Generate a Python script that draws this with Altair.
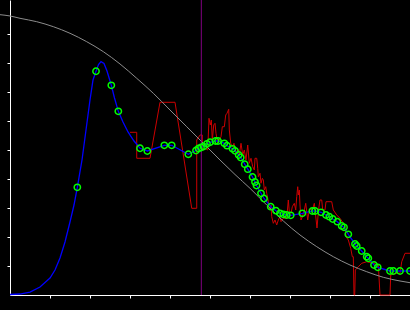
import altair as alt
import pandas as pd

# Gray reference curve
gray_x = [-2.5, 0, 2.5, 6.68, 10.83, 15, 19.18, 23.33, 27.5, 31.68, 35.83, 40, 44.18, 48.33,
          52.5, 56.25, 60, 64.18, 68.33, 72.5, 76.68, 80.83, 85, 89.18, 93.33, 97.5, 100]
gray_y = [96.66, 96.21, 95.41, 94.24, 92.52, 90.24, 87.34, 83.9, 79.66, 74.72, 69.55, 63.79,
          58.03, 52.31, 46.55, 41.55, 36.79, 31.03, 25.52, 20.69, 16.66, 13.21, 10.34, 8.03,
          6.1, 4.83, 4.24]

# Blue curve (points without markers)
blue_x = [0, 2.5, 5, 7.5, 10, 11.25, 12.5, 13.75, 15, 16, 18, 19, 20, 20.75,
          22.125, 22.75, 23.5, 24.25, 26.125, 28.25, 29.5, 31]
blue_y = [0.17, 0.34, 1.03, 2.76, 5.86, 8.62, 12.76, 18.28, 25.17, 31.03, 46.55, 56.9, 67.24, 74.14,
          79.48, 80.45, 79.83, 77.24, 67.93, 59.66, 56.21, 53.1]

# Marker points (green circles, also on the blue line)
marker_x = [16.83, 21.5, 25.33, 27.08, 32.5, 34.33, 38.58, 40.43, 44.58, 46.5, 47.13, 47.75,
            48.38, 49.25, 50, 51.38, 52, 53.58, 54.25, 55.63, 56.25, 57.18, 57.68, 58.68,
            59.45, 60.63, 61.25, 61.63, 62.75, 63.5, 65.18, 66.5, 67.5, 68.33, 69.18, 70.18,
            73.08, 75.58, 76.25, 77.75, 79, 79.83, 80.68, 81.83, 82.93, 83.5, 84.58, 86.25,
            86.68, 87.93, 89.18, 89.58, 91, 91.93, 95, 95.83, 97.5, 100]
marker_y = [37.14, 77.14, 72.31, 63.34, 50.59, 49.66, 51.62, 51.62, 48.52, 49.83, 50.52, 50.86,
            51.21, 52.14, 52.66, 53.1, 53.1, 52.31, 51.48, 50.41, 49.72, 48.28, 47.41, 45.1,
            43.38, 40.69, 38.97, 37.76, 35.07, 33.28, 30.45, 29.07, 28.17, 27.83, 27.59, 27.48,
            28.17, 28.97, 28.97, 28.52, 27.59, 27, 26.21, 25.28, 23.79, 23.34, 20.93, 17.59,
            16.9, 15.17, 13.21, 12.66, 10.34, 9.55, 8.28, 8.28, 8.28, 8.28]

# Red noisy series (in drawing order)
red_x = [30, 31.68, 31.68, 35, 37.5, 41.25, 45.43, 46.68, 46.68, 47.5, 48.08, 48.08, 48.75,
         49.43, 49.75, 50.08, 50.33, 50.58, 50.93, 51.25, 51.5, 51.93, 52.33, 52.75, 53.08,
         53.58, 53.93, 54.25, 54.68, 54.83, 55.18, 55.58, 56, 56.43, 56.93, 57.33, 57.75,
         58.18, 58.58, 59, 59.43, 59.83, 60.25, 60.68, 61.08, 61.25, 61.68, 61.93, 62.08,
         62.5, 62.75, 63.08, 63.33, 63.58, 63.93, 64.18, 64.43, 64.58, 64.75, 65, 65.25,
         65.43, 65.83, 66.25, 66.68, 67.08, 67.5, 67.75, 68.33, 69.18, 69.58, 69.83, 70.25,
         70.58, 71.08, 71.43, 71.68, 71.93, 72.08, 72.33, 72.5, 72.75, 73.08, 73.58, 73.93,
         74.43, 74.75, 75.25, 75.58, 76.08, 76.75, 77.13, 77.5, 77.93, 78.18, 78.75, 79,
         80.43, 80.83, 81.68, 82.5, 83.33, 83.75, 84, 84.58, 85.18, 85.58, 85.83, 86, 86.18,
         86.33, 87.08, 87.93, 89.18, 90.83, 92.08, 92.5, 95, 95.18, 96.68, 97.5, 97.93,
         98.75, 100]
red_y = [56.1, 56.1, 47.14, 47.14, 66.45, 66.45, 29.9, 29.9, 53.45, 55.17, 55.17, 50, 50.59,
         50, 60.93, 58.62, 60.34, 53.45, 58.62, 59.21, 55.76, 52.31, 53.45, 54.59, 58.03,
         58.03, 62.07, 62.66, 64.03, 56.9, 52.31, 51.14, 52.31, 48.86, 50, 48.28, 52.31,
         48.28, 50, 46.55, 51.72, 45.41, 47.14, 44.24, 43.1, 47.14, 47.14, 43.69, 40.79,
         41.97, 38.52, 40.24, 39.66, 36.21, 37.34, 35.07, 33.34, 32.17, 30.45, 29.31, 31.03,
         27, 24.72, 25.86, 24.14, 25.86, 27, 25.28, 26.45, 26.45, 32.76, 28.72, 28.17,
         30.45, 31.62, 29.31, 33.9, 37.34, 34.48, 36.21, 31.03, 25.86, 27, 29.31, 31.62,
         25.86, 28.72, 29.9, 29.31, 31.62, 23.1, 29.31, 32.76, 32.76, 29.31, 29.31, 32.17,
         32.17, 29.31, 27.59, 26.45, 24.72, 23.55, 20.1, 18.97, 16.1, 13.21, 13.21, 0, 0,
         8.62, 9.76, 10.93, 11.48, 10.93, 10.34, 0, 0, 6.9, 7.48, 7.48, 11.48,
         14.38, 14.38]

vline_x = [47.83]
x_ticks = [10, 20, 30, 40, 50, 60, 70, 80, 90, 100]
y_ticks = [10, 20, 30, 40, 50, 60, 70, 80, 90]

gray_df = pd.DataFrame({"x": gray_x, "y": gray_y})
blue_df = pd.concat([pd.DataFrame({"x": blue_x, "y": blue_y}),
                     pd.DataFrame({"x": marker_x, "y": marker_y})]).sort_values("x")
marker_df = pd.DataFrame({"x": marker_x, "y": marker_y})
red_df = pd.DataFrame({"x": red_x, "y": red_y, "i": list(range(len(red_x)))})
vline_df = pd.DataFrame({"x": vline_x})

xs = alt.Scale(domain=[0, 100], nice=False, zero=False)
ys = alt.Scale(domain=[0, 101.72], nice=False, zero=False)
xa = alt.Axis(title=None, labels=False, grid=False, values=x_ticks, tickSize=3,
              domainColor="white", tickColor="white", domainWidth=1, tickWidth=1)
ya = alt.Axis(title=None, labels=False, grid=False, values=y_ticks, tickSize=3,
              domainColor="white", tickColor="white", domainWidth=1, tickWidth=1)

X = alt.X("x:Q", scale=xs, axis=xa)
Y = alt.Y("y:Q", scale=ys, axis=ya)

red = alt.Chart(red_df).mark_line(color="#cc0000", strokeWidth=1).encode(
    x=X, y=Y, order="i:Q")
gray = alt.Chart(gray_df).mark_line(color="#8c8c8c", strokeWidth=1, interpolate="monotone",
                                    clip=False).encode(x=X, y=Y)
vline = alt.Chart(vline_df).mark_rule(color="#800080", strokeWidth=1).encode(x=X)
blue = alt.Chart(blue_df).mark_line(color="#0000ff", strokeWidth=1.3).encode(x=X, y=Y)
markers = alt.Chart(marker_df).mark_point(shape="circle", filled=False, color="#00ff00",
                                          size=40, strokeWidth=1.5, opacity=1).encode(x=X, y=Y)

chart = alt.layer(red, gray, vline, blue, markers).properties(
    width=400, height=295,
    background="black",
    padding={"left": 10, "top": 0, "right": 0, "bottom": 15},
    autosize=alt.AutoSizeParams(type="none"),
).configure_view(stroke=None)

chart.save("out.html", embed_options={"renderer": "svg", "actions": False})
